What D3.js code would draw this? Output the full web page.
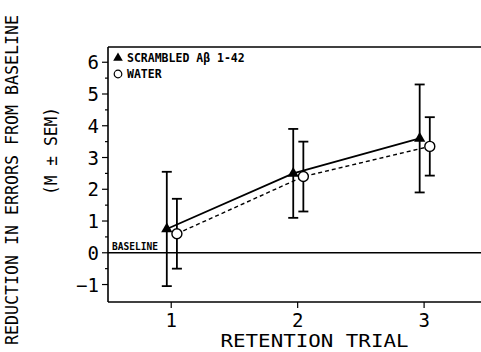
<!DOCTYPE html>
<html>
<head>
<meta charset="utf-8">
<script src="https://cdn.jsdelivr.net/npm/d3@7"></script>
<style>
  body { margin: 0; background: #fff; }
  text { font-family: "DejaVu Sans Mono", monospace; fill: #000; }
</style>
</head>
<body>
<div id="graphDiv"></div>
<script>
// data
var trials = [1, 2, 3];
var scrambledMean = [0.75, 2.5, 3.6];
var scrambledSem = [1.8, 1.4, 1.7];
var waterMean = [0.6, 2.4, 3.35];
var waterSem = [1.1, 1.1, 0.92];
var yTicks = [-1, 0, 1, 2, 3, 4, 5, 6];
var legendLabels = ["SCRAMBLED A\u03b2 1-42", "WATER"];

var margin = {top: 47, right: 0, bottom: 50, left: 108},
    width = 481 - margin.left - margin.right,
    height = 352 - margin.top - margin.bottom;

var svg = d3.select("#graphDiv")
  .append("svg")
    .attr("width", 481)
    .attr("height", 352)
  .append("g")
    .attr("transform", "translate(" + margin.left + "," + margin.top + ")");

var x = d3.scaleLinear().domain([0.5, 3.45]).range([0, width]);
var y = d3.scaleLinear().domain([-1.55, 6.48]).range([height, 0]);

// frame: left axis, top and bottom lines
svg.append("line").attr("x1", 0).attr("x2", width).attr("y1", 0).attr("y2", 0)
  .attr("stroke", "#000").attr("stroke-width", 1.6);
svg.append("line").attr("x1", 0).attr("x2", width).attr("y1", height).attr("y2", height)
  .attr("stroke", "#000").attr("stroke-width", 1.6);
svg.append("line").attr("x1", 0).attr("x2", 0).attr("y1", 0).attr("y2", height)
  .attr("stroke", "#000").attr("stroke-width", 1.6);

// Y axis ticks
var yAxis = svg.append("g");
yAxis.selectAll(".major").data(yTicks).enter().append("line")
  .attr("x1", -6).attr("x2", 0)
  .attr("y1", function(d) { return y(d); }).attr("y2", function(d) { return y(d); })
  .attr("stroke", "#000").attr("stroke-width", 1.2);
yAxis.selectAll(".minor").data(yTicks.slice(0, -1).map(function(d) { return d + 0.5; })).enter().append("line")
  .attr("x1", -3).attr("x2", 0)
  .attr("y1", function(d) { return y(d); }).attr("y2", function(d) { return y(d); })
  .attr("stroke", "#000").attr("stroke-width", 1.2);
yAxis.selectAll("text").data(yTicks).enter().append("text")
  .attr("x", -9).attr("y", function(d) { return y(d) + 7; })
  .attr("text-anchor", "end")
  .style("font-size", "19px")
  .text(function(d) { return d < 0 ? "\u2212" + (-d) : d; });

// X axis ticks
var xAxis = svg.append("g");
xAxis.selectAll("line").data(trials).enter().append("line")
  .attr("x1", function(d) { return x(d); }).attr("x2", function(d) { return x(d); })
  .attr("y1", height).attr("y2", height + 6)
  .attr("stroke", "#000").attr("stroke-width", 1.2);
xAxis.selectAll("text").data(trials).enter().append("text")
  .attr("x", function(d) { return x(d); }).attr("y", height + 25)
  .attr("text-anchor", "middle")
  .style("font-size", "19px")
  .text(function(d) { return d; });

// baseline
svg.append("line").attr("x1", 0).attr("x2", width).attr("y1", y(0)).attr("y2", y(0))
  .attr("stroke", "#000").attr("stroke-width", 1.6);
svg.append("text").attr("x", 4).attr("y", y(0) - 3)
  .style("font-size", "10px").style("font-weight", "bold")
  .attr("textLength", 46).attr("lengthAdjust", "spacingAndGlyphs")
  .text("BASELINE");

// axis labels
svg.append("text")
  .attr("transform", "translate(" + (width / 2 + 20) + "," + (height + 45) + ")")
  .attr("text-anchor", "middle")
  .style("font-size", "18px")
  .attr("textLength", 188).attr("lengthAdjust", "spacingAndGlyphs")
  .text("RETENTION TRIAL");
svg.append("text")
  .attr("transform", "translate(" + (18 - margin.left) + "," + (180 - margin.top) + ") rotate(-90)")
  .attr("text-anchor", "middle")
  .style("font-size", "17px")
  .attr("textLength", 330).attr("lengthAdjust", "spacingAndGlyphs")
  .text("REDUCTION IN ERRORS FROM BASELINE");
svg.append("text")
  .attr("transform", "translate(" + (57 - margin.left) + "," + (151 - margin.top) + ") rotate(-90)")
  .attr("text-anchor", "middle")
  .style("font-size", "17px")
  .attr("textLength", 88).attr("lengthAdjust", "spacingAndGlyphs")
  .text("(M \u00b1 SEM)");

function series(mean, sem, offset, dashed, marker) {
  var pts = trials.map(function(t, i) { return {t: t + offset, m: mean[i], s: sem[i]}; });
  var g = svg.append("g");
  g.append("path")
    .datum(pts)
    .attr("fill", "none")
    .attr("stroke", "#000")
    .attr("stroke-width", dashed ? 1.4 : 1.8)
    .attr("stroke-dasharray", dashed ? "4,3" : null)
    .attr("d", d3.line().x(function(d) { return x(d.t); }).y(function(d) { return y(d.m); }));
  var eb = g.selectAll(".eb").data(pts).enter().append("g");
  eb.append("line")
    .attr("x1", function(d) { return x(d.t); }).attr("x2", function(d) { return x(d.t); })
    .attr("y1", function(d) { return y(d.m + d.s); }).attr("y2", function(d) { return y(d.m - d.s); })
    .attr("stroke", "#000").attr("stroke-width", 1.8);
  [1, -1].forEach(function(sign) {
    eb.append("line")
      .attr("x1", function(d) { return x(d.t) - 5; }).attr("x2", function(d) { return x(d.t) + 5; })
      .attr("y1", function(d) { return y(d.m + sign * d.s); }).attr("y2", function(d) { return y(d.m + sign * d.s); })
      .attr("stroke", "#000").attr("stroke-width", 1.8);
  });
  if (marker === "triangle") {
    g.selectAll(".mk").data(pts).enter().append("path")
      .attr("transform", function(d) { return "translate(" + x(d.t) + "," + y(d.m) + ")"; })
      .attr("d", d3.symbol().type(d3.symbolTriangle).size(55))
      .attr("fill", "#000");
  } else {
    g.selectAll(".mk").data(pts).enter().append("circle")
      .attr("cx", function(d) { return x(d.t); }).attr("cy", function(d) { return y(d.m); })
      .attr("r", 5)
      .attr("fill", "#fff").attr("stroke", "#000").attr("stroke-width", 1.4);
  }
}

series(scrambledMean, scrambledSem, -0.035, false, "triangle");
series(waterMean, waterSem, 0.045, true, "circle");

// legend
var legend = svg.append("g").attr("transform", "translate(10,0)");
legend.append("path")
  .attr("transform", "translate(0,11)")
  .attr("d", d3.symbol().type(d3.symbolTriangle).size(40))
  .attr("fill", "#000");
legend.append("circle").attr("cx", 0).attr("cy", 27).attr("r", 3.8)
  .attr("fill", "#fff").attr("stroke", "#000").attr("stroke-width", 1.2);
legend.selectAll("text").data(legendLabels).enter().append("text")
  .attr("x", 9).attr("y", function(d, i) { return 15 + i * 16; })
  .style("font-size", "11.5px").style("font-weight", "bold")
  .text(function(d) { return d; });
</script>
</body>
</html>
